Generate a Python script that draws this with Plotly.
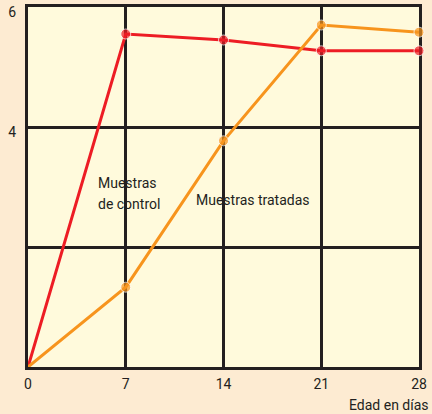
import plotly.graph_objects as go

dias = [0, 7, 14, 21, 28]
control = [0, 5.55, 5.45, 5.27, 5.27]
tratadas = [0, 1.33, 3.77, 5.70, 5.58]

x_ticks = [0, 7, 14, 21, 28]
y_ticks = [0, 2, 4, 6]
y_ticktext = ["", "", "4", "6"]

FONT = "Roboto, Liberation Sans, Arial, sans-serif"
INK = "#231F20"
GRID = "#231F20"

fig = go.Figure()
fig.add_trace(go.Scatter(
    x=dias, y=control, mode="lines+markers",
    line=dict(color="#ED1C24", width=3),
    marker=dict(size=[0, 10, 10, 10, 10], color="#ED1C24"),
    cliponaxis=False, showlegend=False, hoverinfo="skip"))
fig.add_trace(go.Scatter(
    x=dias, y=tratadas, mode="lines+markers",
    line=dict(color="#F7941D", width=3),
    marker=dict(size=[0, 10, 10, 10, 10], color="#F7941D"),
    cliponaxis=False, showlegend=False, hoverinfo="skip"))

ann_font = dict(family=FONT, size=14, color=INK)
fig.add_annotation(x=4.85, y=3.07, xref="x", yref="y", text="Muestras",
                   showarrow=False, xanchor="left", yanchor="middle", font=ann_font)
fig.add_annotation(x=4.85, y=2.72, xref="x", yref="y", text="de control",
                   showarrow=False, xanchor="left", yanchor="middle", font=ann_font)
fig.add_annotation(x=11.88, y=2.78, xref="x", yref="y", text="Muestras tratadas",
                   showarrow=False, xanchor="left", yanchor="middle", font=ann_font)
fig.add_annotation(x=1, y=0, xref="paper", yref="paper", text="Edad en días",
                   showarrow=False, xanchor="right", yanchor="middle", yshift=-38, xshift=12,
                   font=dict(family=FONT, size=14, color=INK))

fig.update_xaxes(range=[0, 28], tickvals=x_ticks, ticktext=[str(v) for v in x_ticks],
                 showgrid=True, gridcolor=GRID, gridwidth=3,
                 showline=True, linecolor=GRID, linewidth=3, mirror=True,
                 zeroline=False, ticks="", layer="below traces", automargin=False,
                 ticklabelstandoff=2, ticklabeloverflow="allow",
                 tickfont=dict(family=FONT, size=14, color=INK))
fig.update_yaxes(range=[0, 6], tickvals=y_ticks, ticktext=y_ticktext,
                 showgrid=True, gridcolor=GRID, gridwidth=3,
                 showline=True, linecolor=GRID, linewidth=3, mirror=True,
                 zeroline=False, ticks="", layer="below traces", automargin=False,
                 ticklabelshift=5, ticklabelstandoff=6, ticklabeloverflow="allow",
                 tickfont=dict(family=FONT, size=14, color=INK))

fig.update_layout(
    width=432, height=414,
    margin=dict(l=28, r=13, t=7, b=47),
    paper_bgcolor="#FDEBD2",
    plot_bgcolor="#FFFADC",
    hovermode=False,
)

fig.write_html("out.html", config={"displayModeBar": False},
               post_script="document.body.style.margin='0';document.body.style.overflow='hidden';")
